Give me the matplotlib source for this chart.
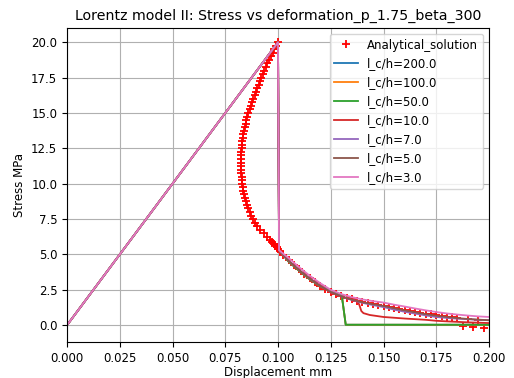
import numpy as np
import matplotlib
matplotlib.use("Agg")
import matplotlib.pyplot as plt

# analytical solution: snap-back loop (displacement, stress)
loop_u = [0.1000, 0.0991, 0.0983, 0.0974, 0.0966, 0.0958, 0.0950, 0.0942, 0.0935, 0.0928,
          0.0921, 0.0914, 0.0908, 0.0901, 0.0895, 0.0889, 0.0883, 0.0877, 0.0871, 0.0865,
          0.0859, 0.0854, 0.0850, 0.0846, 0.0842, 0.0839, 0.0836, 0.0833, 0.0831, 0.0829,
          0.0828, 0.0827, 0.0827, 0.0826, 0.0826, 0.0826, 0.0826, 0.0827, 0.0828, 0.0829,
          0.0831, 0.0833, 0.0836, 0.0840, 0.0844, 0.0848, 0.0853, 0.0859, 0.0866, 0.0874,
          0.0883, 0.0892, 0.0902, 0.0917, 0.0933, 0.0948, 0.0963, 0.0972, 0.0980, 0.0988,
          0.0995, 0.1002, 0.1009]
loop_s = [20.0, 19.75, 19.5, 19.25, 19.0, 18.75, 18.5, 18.25, 18.0, 17.75,
          17.5, 17.25, 17.0, 16.75, 16.5, 16.25, 16.0, 15.75, 15.5, 15.25,
          15.0, 14.75, 14.5, 14.25, 14.0, 13.75, 13.5, 13.25, 13.0, 12.75,
          12.5, 12.25, 12.0, 11.75, 11.5, 11.25, 11.0, 10.75, 10.5, 10.25,
          10.0, 9.75, 9.5, 9.25, 9.0, 8.75, 8.5, 8.25, 8.0, 7.75,
          7.5, 7.25, 7.0, 6.75, 6.5, 6.25, 6.0, 5.875, 5.75, 5.625,
          5.5, 5.375, 5.25]

# analytical solution: softening tail
tail_u = [0.1025, 0.1050, 0.1075, 0.1100, 0.1125, 0.1150, 0.1175, 0.1200, 0.1225, 0.1250,
          0.1275, 0.1300, 0.1325, 0.1350, 0.1375, 0.1400, 0.1425, 0.1450, 0.1475, 0.1500,
          0.1525, 0.1550, 0.1575, 0.1600, 0.1625, 0.1650, 0.1675, 0.1700, 0.1725, 0.1750,
          0.1775, 0.1800, 0.1825, 0.1850, 0.1875, 0.1900, 0.1925, 0.1950, 0.1975]
tail_s = [4.95, 4.60, 4.25, 3.95, 3.62, 3.32, 3.04, 2.80, 2.56, 2.36,
          2.18, 2.04, 1.92, 1.82, 1.72, 1.64, 1.56, 1.49, 1.42, 1.36,
          1.28, 1.21, 1.14, 1.07, 1.00, 0.94, 0.88, 0.82, 0.76, 0.71,
          0.66, 0.61, 0.56, 0.52, -0.05, 0.44, -0.12, 0.40, -0.18]

# common elastic branch + snap-back
elastic_u = [0.0, 0.1, 0.1005]
elastic_s = [0.0, 20.0, 5.30]

# FE tails for each l_c/h
u_50 = [0.105, 0.110, 0.115, 0.120, 0.125, 0.1302, 0.1321, 0.150, 0.175, 0.200]
s_50 = [4.50, 3.85, 3.25, 2.75, 2.40, 2.13, 0.03, 0.03, 0.03, 0.03]

u_10 = [0.105, 0.110, 0.115, 0.120, 0.125, 0.130, 0.135, 0.1375, 0.1385, 0.1395,
        0.1405, 0.1435, 0.150, 0.160, 0.170, 0.175, 0.180, 0.190, 0.200]
s_10 = [4.55, 3.90, 3.30, 2.78, 2.34, 2.03, 1.82, 1.74, 1.45, 1.00,
        0.85, 0.72, 0.58, 0.47, 0.38, 0.31, 0.27, 0.20, 0.15]

u_7 = [0.105, 0.110, 0.115, 0.120, 0.125, 0.130, 0.135, 0.140, 0.145, 0.150,
       0.155, 0.160, 0.165, 0.170, 0.175, 0.180, 0.185, 0.190, 0.195, 0.200]
s_7 = [4.55, 3.90, 3.30, 2.78, 2.34, 2.03, 1.78, 1.58, 1.42, 1.28,
       1.10, 0.95, 0.82, 0.69, 0.58, 0.51, 0.46, 0.42, 0.38, 0.35]

u_5 = [0.105, 0.110, 0.115, 0.120, 0.125, 0.130, 0.135, 0.140, 0.145, 0.150,
       0.155, 0.160, 0.165, 0.170, 0.175, 0.180, 0.185, 0.190, 0.195, 0.200]
s_5 = [4.55, 3.90, 3.30, 2.78, 2.34, 2.03, 1.80, 1.62, 1.48, 1.36,
       1.20, 1.05, 0.91, 0.78, 0.67, 0.58, 0.50, 0.44, 0.39, 0.35]

u_3 = [0.105, 0.110, 0.115, 0.120, 0.125, 0.130, 0.135, 0.140, 0.145, 0.150,
       0.155, 0.160, 0.165, 0.170, 0.175, 0.180, 0.185, 0.190, 0.195, 0.200]
s_3 = [4.75, 4.10, 3.50, 2.97, 2.50, 2.20, 1.98, 1.82, 1.70, 1.60,
       1.45, 1.32, 1.18, 1.05, 0.93, 0.83, 0.75, 0.68, 0.62, 0.58]

labels = ['l_c/h=200.0', 'l_c/h=100.0', 'l_c/h=50.0', 'l_c/h=10.0',
          'l_c/h=7.0', 'l_c/h=5.0', 'l_c/h=3.0']
curves = [(u_50, s_50), (u_50, s_50), (u_50, s_50), (u_10, s_10),
          (u_7, s_7), (u_5, s_5), (u_3, s_3)]

plt.rcParams['font.size'] = 8.5

fig = plt.figure(figsize=(5.14, 3.78), dpi=100)
ax = fig.add_axes([67 / 514, 36 / 378, 422 / 514, 314 / 378])

ax.plot(loop_u + tail_u, loop_s + tail_s, '+', color='red', markersize=6,
        markeredgewidth=1.3, label='Analytical_solution')
for lab, (u, s) in zip(labels, curves):
    ax.plot(elastic_u + u, elastic_s + s, linewidth=1.3, label=lab)

ax.set_xlim(0, 0.2)
ax.set_title('Lorentz model II: Stress vs deformation_p_1.75_beta_300', fontsize=10.2)
ax.set_xlabel('Displacement mm', labelpad=1)
ax.set_ylabel('Stress MPa')
ax.grid(True)
ax.legend(loc='upper right')

fig.savefig('out.png', dpi=100)
